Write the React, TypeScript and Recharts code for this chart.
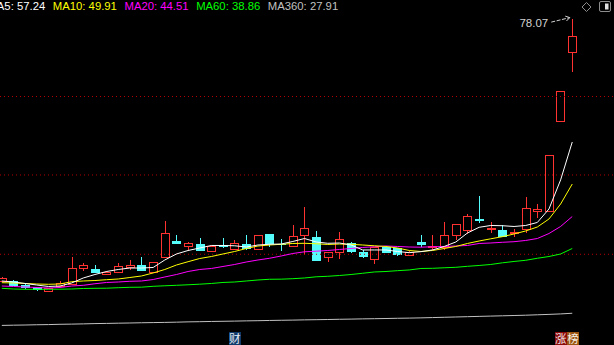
import React from 'react'
import { ComposedChart, Bar, Line, XAxis, YAxis, ReferenceLine, ReferenceDot } from 'recharts'

// daily candles, oldest first (price units)
const OPEN = [
  33.56, 33.68, 33.0, 32.61, 31.87, 32.61, 33.0, 35.71, 35.71, 34.75,
  34.99, 35.83, 36.39, 34.99, 37.63, 40.46, 39.49, 39.9, 38.65, 39.78,
  38.85, 39.95, 38.94, 41.64, 39.95, 39.49, 41.36, 41.09, 37.53, 38.48,
  40.07, 38.65, 37.24, 39.39, 39.22, 37.97, 40.34, 39.22, 39.22, 41.31,
  42.21, 44.19, 42.32, 42.32, 41.64, 42.32, 45.42, 45.42, 60.63, 72.32,
]
const HIGH = [
  34.41, 33.85, 33.1, 32.7, 32.44, 33.68, 37.75, 36.68, 36.39, 35.3,
  36.73, 37.24, 37.75, 36.9, 43.85, 41.47, 40.34, 40.92, 39.7, 40.92,
  40.63, 41.47, 41.5, 41.64, 40.81, 43.17, 46.27, 42.16, 38.65, 41.99,
  40.34, 38.94, 39.39, 39.45, 39.22, 38.7, 41.47, 41.47, 43.63, 43.4,
  45.04, 48.09, 43.73, 43.09, 42.41, 47.92, 46.73, 55.04, 65.88, 78.07,
]
const LOW = [
  33.56, 32.83, 32.35, 32.04, 31.87, 32.61, 33.0, 35.37, 35.04, 34.75,
  34.99, 35.54, 35.43, 34.99, 37.63, 39.9, 38.77, 38.82, 38.6, 39.22,
  38.85, 38.94, 38.9, 39.49, 38.83, 39.49, 38.09, 37.12, 36.95, 37.41,
  38.48, 37.63, 36.56, 38.45, 37.92, 37.95, 39.49, 38.88, 38.94, 40.63,
  41.64, 43.56, 41.77, 41.19, 41.19, 41.82, 44.36, 45.42, 60.63, 69.11,
]
const CLOSE = [
  34.14, 32.83, 32.44, 32.16, 32.44, 33.29, 35.83, 36.34, 35.04, 35.26,
  36.22, 36.39, 35.43, 36.9, 41.77, 40.0, 40.07, 38.82, 39.61, 39.49,
  40.07, 39.16, 41.47, 39.9, 39.8, 41.31, 42.61, 37.12, 38.65, 40.75,
  38.65, 37.8, 39.39, 38.48, 38.09, 38.65, 39.78, 39.61, 41.47, 43.34,
  44.7, 43.85, 42.66, 41.19, 42.04, 46.0, 45.88, 55.04, 65.88, 75.21,
]

// moving averages
const MA5 = [
  33.68, 33.51, 33.26, 33.0, 32.75, 32.83, 33.34, 34.19, 34.78, 35.29,
  35.63, 35.88, 35.88, 35.97, 37.24, 38.26, 38.85, 39.27, 39.7, 39.7,
  39.65, 39.44, 39.78, 39.9, 39.95, 40.38, 40.88, 40.29, 40.07, 40.12,
  39.78, 38.94, 38.94, 38.94, 38.68, 38.48, 38.65, 38.94, 39.53, 40.29,
  41.82, 42.78, 43.09, 43.05, 42.92, 43.09, 43.6, 45.89, 50.81, 57.24,
]
const MA10 = [
  33.39, 33.34, 33.26, 33.17, 33.12, 33.17, 33.56, 33.68, 33.76, 33.9,
  34.02, 34.27, 34.53, 35.04, 35.63, 36.39, 36.95, 37.49, 37.83, 38.26,
  38.68, 39.19, 39.61, 39.78, 39.9, 40.04, 40.07, 39.99, 39.87, 39.95,
  39.9, 39.78, 39.65, 39.53, 39.27, 38.85, 38.68, 38.85, 39.19, 39.53,
  40.04, 40.46, 40.83, 41.19, 41.65, 42.16, 42.83, 44.19, 46.73, 50.12,
]
const MA20 = [
  32.83, 32.75, 32.66, 32.58, 32.49, 32.58, 32.83, 32.95, 33.21, 33.43,
  33.51, 33.63, 33.68, 33.93, 34.36, 34.78, 35.29, 35.63, 35.8, 36.14,
  36.48, 36.9, 37.24, 37.53, 37.92, 38.34, 38.63, 38.73, 38.85, 39.02,
  39.19, 39.36, 39.49, 39.61, 39.53, 39.44, 39.41, 39.48, 39.53, 39.61,
  39.7, 40.04, 40.12, 40.24, 40.34, 40.55, 40.88, 41.73, 42.92, 44.61,
]
const MA60 = [
  32.44, 32.32, 32.27, 32.27, 32.27, 32.29, 32.32, 32.41, 32.44, 32.46,
  32.54, 32.61, 32.63, 32.78, 32.87, 32.95, 33.04, 33.14, 33.26, 33.43,
  33.51, 33.68, 33.85, 33.97, 33.99, 34.07, 34.19, 34.39, 34.48, 34.61,
  34.78, 34.99, 35.21, 35.29, 35.43, 35.55, 35.8, 35.83, 35.92, 36.0,
  36.17, 36.31, 36.48, 36.76, 36.99, 37.19, 37.53, 37.83, 38.26, 39.19,
]
const MA360 = [
  26.15, 26.19, 26.22, 26.26, 26.29, 26.34, 26.37, 26.41, 26.46, 26.49,
  26.53, 26.56, 26.6, 26.63, 26.66, 26.7, 26.75, 26.78, 26.82, 26.85,
  26.88, 26.92, 26.95, 26.99, 27.02, 27.05, 27.09, 27.12, 27.15, 27.19,
  27.22, 27.26, 27.29, 27.32, 27.36, 27.39, 27.43, 27.48, 27.53, 27.58,
  27.63, 27.68, 27.73, 27.78, 27.83, 27.88, 27.95, 28.02, 28.1, 28.21,
]

const MA_NAMES = ['MA5', 'MA10', 'MA20', 'MA60', 'MA360']
const MA_LAST = ['57.24', '49.91', '44.51', '38.86', '27.91']
const GRID_LEVELS = [64.95, 51.65, 38.21]
const Y_DOMAIN = [22.83, 81.31]
const SLOTS = 53 // 50 candles plus the empty room on the right

const RED = '#ff3232'
const CYAN = '#54fcfc'
const MA_COLORS = ['#ffffff', '#ffff00', '#ff00ff', '#00ff00', '#c0c0c0']
const FONT = '"Liberation Sans", Arial, sans-serif'

const data = Array.from({ length: SLOTS }, (_, i) => {
  if (i >= OPEN.length) return { i }
  return {
    i,
    open: OPEN[i], high: HIGH[i], low: LOW[i], close: CLOSE[i],
    range: [LOW[i], HIGH[i]],
    ma5: MA5[i], ma10: MA10[i], ma20: MA20[i], ma60: MA60[i], ma360: MA360[i],
  }
})

function Candle(props: any) {
  const { x, y, width, height, payload } = props
  if (!payload || payload.high == null) return null
  const top = Math.min(y, y + height)
  const bot = Math.max(y, y + height)
  const span = payload.high - payload.low
  const py = (v: number) => (span > 0 ? top + ((payload.high - v) / span) * (bot - top) : top)
  const cx = Math.round(x + width / 2) + 0.5
  const up = payload.close >= payload.open
  const color = up ? RED : CYAN
  const bTop = Math.round(py(Math.max(payload.open, payload.close)))
  const bBot = Math.max(bTop + 1, Math.round(py(Math.min(payload.open, payload.close))))
  if (up) {
    return (
      <g shapeRendering="crispEdges">
        <line x1={cx} x2={cx} y1={top} y2={bTop} stroke={color} />
        <line x1={cx} x2={cx} y1={bBot} y2={bot} stroke={color} />
        <rect x={cx - 4} y={bTop + 0.5} width={8} height={Math.max(1, bBot - bTop - 1)} fill="#000" stroke={color} />
      </g>
    )
  }
  return (
    <g shapeRendering="crispEdges">
      <line x1={cx} x2={cx} y1={top} y2={bot} stroke={color} />
      <rect x={cx - 4.5} y={bTop} width={9} height={Math.max(1, bBot - bTop)} fill={color} />
    </g>
  )
}

function HighMark(props: any) {
  const { cx, cy } = props
  const tx = cx - 2.5
  const ty = cy - 1.5
  return (
    <g>
      <text x={cx - 24} y={cy + 8} textAnchor="end" fill="#d2d2d2" fontSize={11.5} fontFamily={FONT}>
        {HIGH[HIGH.length - 1].toFixed(2)}
      </text>
      <line x1={cx - 21} y1={cy + 3} x2={tx} y2={ty} stroke="#d2d2d2" strokeDasharray="4 1.5" />
      <polyline points={`${tx - 3.3},${ty + 3.4} ${tx},${ty} ${tx - 4.5},${ty - 1.5}`} fill="none" stroke="#d2d2d2" />
    </g>
  )
}

export default function App() {
  return (
    <div style={{ position: 'fixed', left: 0, top: 0, width: 614, height: 345, background: '#000', overflow: 'hidden' }}>
      <div style={{ position: 'absolute', left: -4, top: 0 }}>
        <ComposedChart width={617} height={345} data={data} margin={{ top: 0, right: 0, bottom: 0, left: 0 }}>
          <XAxis dataKey="i" hide />
          <YAxis hide type="number" domain={Y_DOMAIN} allowDataOverflow />
          {GRID_LEVELS.map((v) => (
            <ReferenceLine key={v} y={v} stroke="#b40000" strokeDasharray="1 3" />
          ))}
          <Bar dataKey="range" shape={<Candle />} isAnimationActive={false} />
          {['ma360', 'ma60', 'ma20', 'ma10', 'ma5'].map((k) => (
            <Line
              key={k}
              dataKey={k}
              type="linear"
              stroke={MA_COLORS[['ma5', 'ma10', 'ma20', 'ma60', 'ma360'].indexOf(k)]}
              strokeWidth={1}
              dot={false}
              activeDot={false}
              isAnimationActive={false}
            />
          ))}
          <ReferenceDot x={OPEN.length - 1} y={HIGH[HIGH.length - 1]} r={0} shape={(p: any) => <HighMark {...p} />} />
        </ComposedChart>
      </div>

      <div style={{ position: 'absolute', left: -12.6, top: 0, display: 'flex', gap: 7.6, fontFamily: FONT, fontSize: 11.3, lineHeight: '12px', whiteSpace: 'nowrap' }}>
        {MA_NAMES.map((n, k) => (
          <span key={n} style={{ color: MA_COLORS[k] }}>{n}: {MA_LAST[k]}</span>
        ))}
      </div>

      <svg width={614} height={345} style={{ position: 'absolute', left: 0, top: 0, pointerEvents: 'none' }}>
        <path d="M586.5 2.5 L591 7 L586.5 11.5 L582 7 Z" fill="none" stroke="#8c8c8c" />
        <rect x={599.5} y={1.5} width={11} height={10} rx={1.5} fill="none" stroke="#8c8c8c" />
        <rect x={605} y={3.5} width={3.5} height={6} fill="#e0e0e0" />
      </svg>

      <div style={{ position: 'absolute', left: 228.5, top: 331.5, width: 12.5, height: 13.5, background: '#103a6a', color: '#e8eef6', fontFamily: '"Noto Sans CJK SC"', fontSize: 11.5, lineHeight: '13.5px', textAlign: 'center' }}>财</div>
      <div style={{ position: 'absolute', left: 555, top: 331.5, width: 11.7, height: 13.5, background: '#8a0a0a', color: '#f4e8e8', fontFamily: '"Noto Sans CJK SC"', fontSize: 11.5, lineHeight: '13.5px', textAlign: 'center' }}>涨</div>
      <div style={{ position: 'absolute', left: 566.7, top: 331.5, width: 12.5, height: 13.5, background: '#9a5410', color: '#f8efe4', fontFamily: '"Noto Sans CJK SC"', fontSize: 11.5, lineHeight: '13.5px', textAlign: 'center' }}>榜</div>
    </div>
  )
}
